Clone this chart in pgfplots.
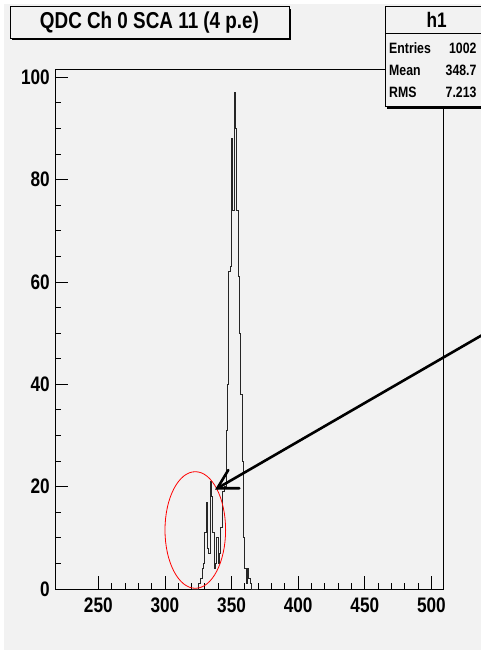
\documentclass[border=0pt]{standalone}
\usepackage{pgfplots}
\pgfplotsset{compat=1.18}
\usepackage{fontspec}
\setmainfont{Liberation Sans}[FakeStretch=0.82]
\definecolor{bgcol}{RGB}{242,242,242}

\begin{document}
\begin{tikzpicture}[x=1pt,y=1pt]
% canvas
\fill[bgcol] (0,0) rectangle (481,650);
\useasboundingbox (0,0) rectangle (481,650);
\fill[white] (0,646) rectangle (481,650);
\fill[white] (0,0) rectangle (4,650);

\begin{axis}[
  at={(55pt,61pt)}, anchor=south west,
  width=388pt, height=520pt, scale only axis,
  xmin=217.5, xmax=508.7, ymin=0, ymax=101.6,
  xtick={250,300,...,500}, minor x tick num=4,
  ytick={0,20,...,100}, minor y tick num=3,
  xtick pos=bottom, ytick pos=left, tick align=inside,
  major tick length=13pt, minor tick length=6pt,
  axis line style={black, line width=0.8pt},
  tick style={black, line width=0.8pt},
  ticklabel style={font=\fontsize{21}{21}\selectfont\bfseries},
  /pgf/number format/assume math mode=true,
  xticklabel style={anchor=north, inner sep=0pt, yshift=-8.5pt},
  yticklabel style={anchor=east, inner sep=0pt, xshift=-5pt},
  clip=false,
]
% QDC spectrum, one unit per bin (left bin edge, counts)
\addplot[const plot, black!85, line width=0.9pt] coordinates {
(320,0) (325,1) (326,1) (327,2) (328,4) (329,5) (330,11) (331,17)
(332,8) (333,7) (334,21) (335,18) (336,11) (337,4) (338,5) (339,10)
(340,5) (341,7) (342,12) (343,19) (344,19) (345,20) (346,31) (347,40)
(348,62) (349,63) (350,88) (351,74) (352,97) (353,90) (354,74) (355,61)
(356,50) (357,38) (358,25) (359,10) (360,4) (361,1) (362,4) (363,2)
(364,1) (365,0) (370,0)
};
\end{axis}

% annotation: ellipse around the low-side structure and arrow
\draw[red, line width=0.8pt] (195.3,120) ellipse [x radius=30.3, y radius=58.3];
\draw[black, line width=2.6pt, line cap=round] (485,316.6) -- (217.3,161.7);
\draw[black, line width=2.6pt, line cap=round] (239.3,161.7) -- (217.3,161.7) -- (228.3,180);

% title box
\fill[black] (12,609.7) rectangle (291,641.3);
\filldraw[fill=bgcol, draw=black, line width=0.8pt] (10,611.7) rectangle (289,643.3);
\node[font=\fontsize{23}{23}\selectfont\bfseries] at (149.5,627.5) {QDC Ch 0 SCA 11 (4 p.e)};

% statistics box
\fill[black] (387,541.3) rectangle (492,642);
\filldraw[fill=bgcol, draw=black, line width=0.8pt] (385,543.3) rectangle (490,644);
\draw[black, line width=0.8pt] (385,616.7) -- (490,616.7);
\node[font=\fontsize{21}{21}\selectfont\bfseries] at (436.7,630.5) {h1};
\begin{scope}[every node/.style={font=\fontsize{15}{15}\selectfont\bfseries, inner sep=0pt}]
\node[anchor=west] at (389,602) {Entries};
\node[anchor=east] at (476.7,602) {1002};
\node[anchor=west] at (389,580) {Mean};
\node[anchor=east] at (476.7,580) {348.7};
\node[anchor=west] at (389,558) {RMS};
\node[anchor=east] at (476.7,558) {7.213};
\end{scope}
\end{tikzpicture}
\end{document}
